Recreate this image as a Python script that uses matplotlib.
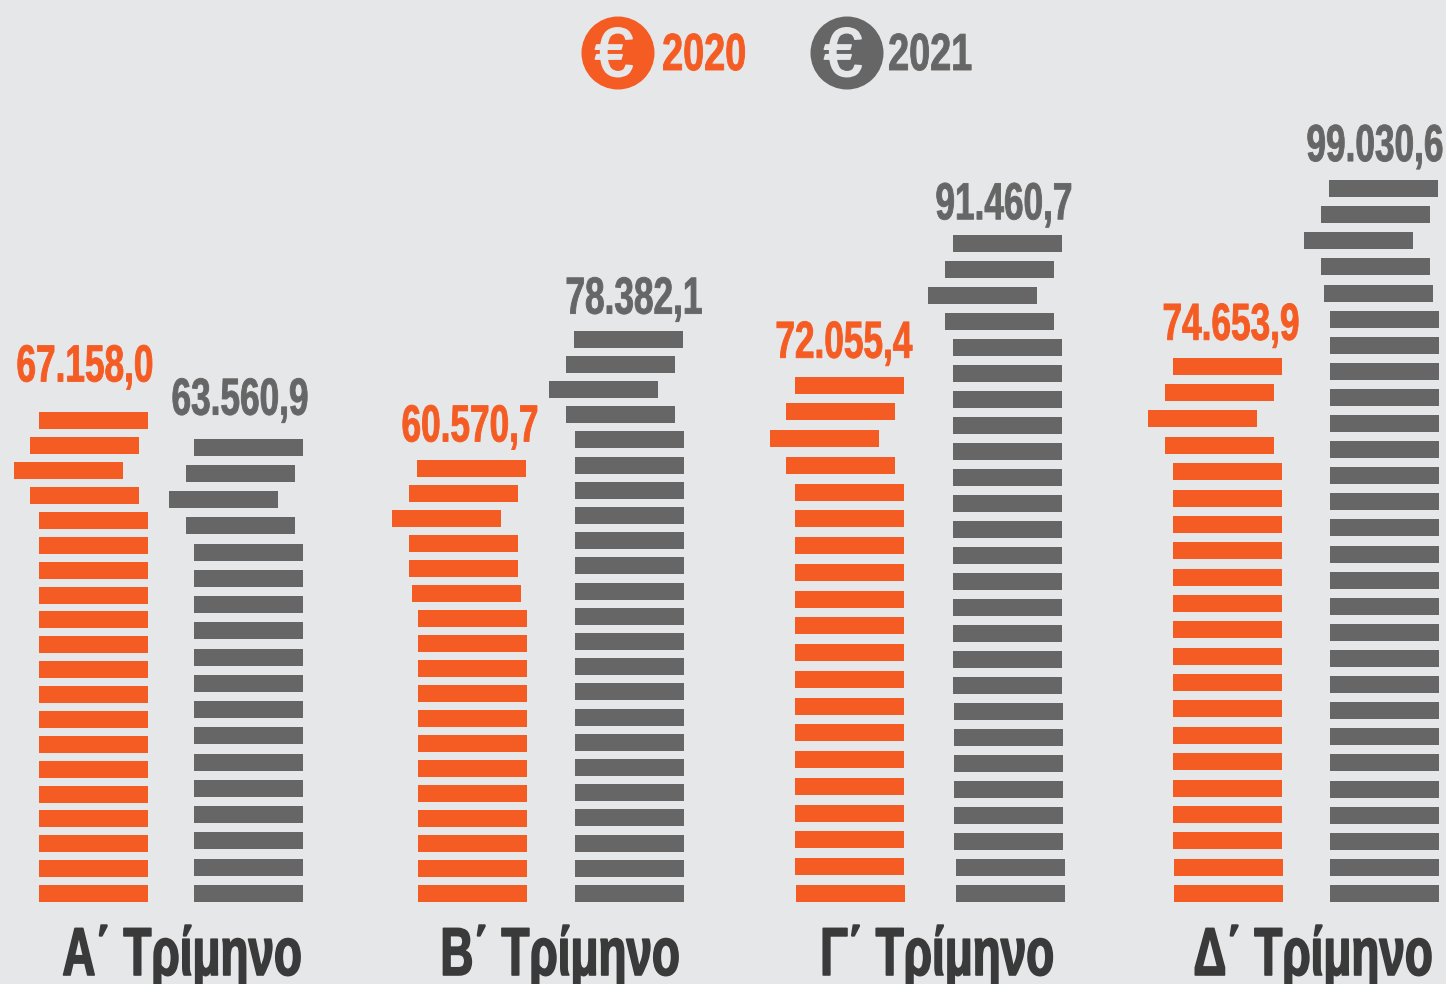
import matplotlib
matplotlib.use("Agg")
import matplotlib.pyplot as plt
from matplotlib.patches import Ellipse
from matplotlib.patheffects import AbstractPathEffect
from matplotlib.transforms import Affine2D
import numpy as np

plt.rcParams['font.family'] = ['Liberation Sans', 'DejaVu Sans']

quarters = ["Α΄ Τρίμηνο", "Β΄ Τρίμηνο", "Γ΄ Τρίμηνο", "Δ΄ Τρίμηνο"]
values_2020 = [67158.0, 60570.7, 72055.4, 74653.9]
values_2021 = [63560.9, 78382.1, 91460.7, 99030.6]
labels_2020 = ["67.158,0", "60.570,7", "72.055,4", "74.653,9"]
labels_2021 = ["63.560,9", "78.382,1", "91.460,7", "99.030,6"]
slabs_2020 = [20, 18, 20, 21]
slabs_2021 = [18, 23, 26, 28]

ORANGE = "#F45C24"
GRAY = "#666666"
BG = "#E6E7E9"
DARK = "#3A3A3A"

W, H = 1446, 984
BASE_Y = 902          # pixel row of value 0
PX_PER_UNIT = 0.00729
SLAB_H = 17 / PX_PER_UNIT
SLAB_W = 109

# stack left edges, and the sideways shifts of the top slabs
left_2020 = [39, 418, 795, 1173]
left_2021 = [194, 575, 953, 1330]
shift_2020 = [[0, -9, -25, -9], [-1, -9, -26, -9, -9, -6], [0, -9, -25, -9], [0, -8, -25, -8]]
shift_2021 = [[0, -8, -25, -8], [-1, -9, -26, -9], [0, -8, -25, -8], [-1, -9, -26, -9, -6]]
# shifts of the bottom slabs, from the bottom up
foot_2020 = [[], [], [1], [1, 1]]
foot_2021 = [[], [], [3, 3, 1, 1, 1, 1, 1, 1], []]

label_x_2020 = [85, 470, 844, 1231]
label_x_2021 = [240, 634, 1004, 1375]
label_gap_2020 = [31, 19, 19, 18]
label_gap_2021 = [24, 17, 16, 19]
title_x = [182, 560, 937, 1313]


class StretchY(AbstractPathEffect):
    # the reference font is condensed: small size for the width, then taller glyphs
    # plus a thin outline since stretching leaves the stems too light
    def __init__(self, sy, stroke_px):
        super().__init__()
        self.sy = sy
        self.stroke_px = stroke_px

    def draw_path(self, renderer, gc, tpath, affine, rgbFace=None):
        gc0 = renderer.new_gc()
        gc0.copy_properties(gc)
        gc0.set_linewidth(self.stroke_px * 0.72)
        gc0.set_foreground(rgbFace)
        renderer.draw_path(gc0, tpath, Affine2D().scale(1, self.sy) + affine, rgbFace)
        gc0.restore()


def px_text(x, y, s, size_px, color, sy, stroke_px=0.9, ha="center", weight="bold"):
    fig.text(x / W, 1 - y / H, s, fontsize=size_px * 0.72, color=color, ha=ha,
             va="baseline", fontweight=weight, path_effects=[StretchY(sy, stroke_px)])


def draw_stack(left, value, n, shift, foot, color):
    tops = np.linspace(SLAB_H, value, n)
    lefts = np.full(n, float(left))
    for i, s in enumerate(shift):
        lefts[n - 1 - i] += s
    for i, s in enumerate(foot):
        lefts[i] += s
    ax.barh(tops - SLAB_H, SLAB_W, height=SLAB_H, left=lefts, align="edge", color=color, linewidth=0)


fig = plt.figure(figsize=(W / 100, H / 100), dpi=100, facecolor=BG)
ax = fig.add_axes([0, 0, 1, 1])
ax.set_xlim(0, W)
ax.set_ylim((BASE_Y - H) / PX_PER_UNIT, BASE_Y / PX_PER_UNIT)
ax.axis("off")

for i in range(4):
    draw_stack(left_2020[i], values_2020[i], slabs_2020[i], shift_2020[i], foot_2020[i], ORANGE)
    draw_stack(left_2021[i], values_2021[i], slabs_2021[i], shift_2021[i], foot_2021[i], GRAY)
    px_text(label_x_2020[i], BASE_Y - values_2020[i] * PX_PER_UNIT - label_gap_2020[i], labels_2020[i], 35.2, ORANGE, 1.48)
    px_text(label_x_2021[i], BASE_Y - values_2021[i] * PX_PER_UNIT - label_gap_2021[i], labels_2021[i], 35.2, GRAY, 1.48)
    px_text(title_x[i], 975, quarters[i], 45.8, DARK, 1.48, stroke_px=1.6)

# legend
for cx, name, tx, color in [(618, "2020", 704, ORANGE), (847, "2021", 930, GRAY)]:
    ax.add_patch(Ellipse((cx, (BASE_Y - 53) / PX_PER_UNIT), 73, 73 / PX_PER_UNIT, color=color, linewidth=0))
    px_text(cx - 4, 76, "€", 69, BG, 1.0, stroke_px=1.6, weight="normal")
    px_text(tx, 70, name, 37.8, color, 1.38)

fig.savefig("out.png", dpi=100, facecolor=BG)
